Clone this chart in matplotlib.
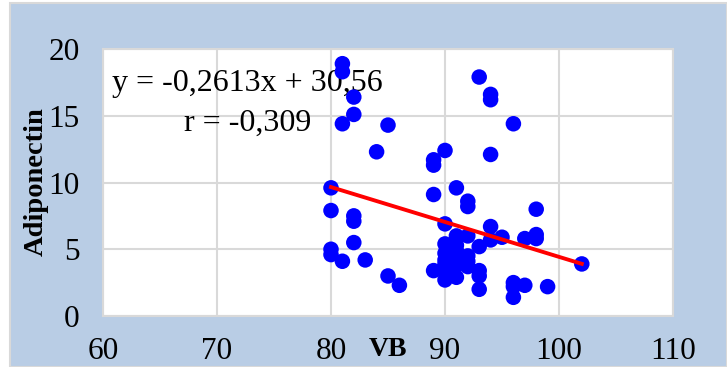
import numpy as np
import matplotlib.pyplot as plt
from matplotlib.patches import Rectangle

# VB vs Adiponectin values
vb = [80, 80, 80, 80,
      81, 81, 81, 81,
      82, 82, 82, 82, 82,
      83, 84, 85, 85, 86,
      89, 89, 89, 89,
      90, 90, 90, 90, 90, 90, 90, 90,
      91, 91, 91, 91, 91, 91, 91,
      92, 92, 92, 92, 92, 92,
      93, 93, 93, 93, 93,
      94, 94, 94, 94, 94,
      95,
      96, 96, 96, 96,
      97, 97,
      98, 98, 98,
      99, 102]
adiponectin = [9.6, 7.9, 5.0, 4.6,
               18.9, 18.3, 14.4, 4.1,
               16.4, 15.1, 7.5, 7.1, 5.5,
               4.2, 12.3, 14.3, 3.0, 2.3,
               11.7, 11.3, 9.1, 3.4,
               12.4, 6.9, 5.4, 4.7, 4.2, 3.9, 3.4, 2.7,
               9.6, 6.0, 5.3, 4.9, 4.5, 3.8, 2.9,
               8.6, 8.2, 6.0, 4.5, 4.1, 3.7,
               17.9, 5.2, 3.4, 3.0, 2.0,
               16.6, 16.2, 12.1, 6.7, 5.7,
               5.9,
               14.4, 2.5, 2.2, 1.4,
               5.8, 2.3,
               8.0, 6.1, 5.8,
               2.2, 3.9]

slope = -0.2613
intercept = 30.56
r_value = -0.309

x_ticks = [60, 70, 80, 90, 100, 110]
y_ticks = [0, 5, 10, 15, 20]

plt.rcParams['font.family'] = ['Liberation Serif', 'DejaVu Serif']

fig = plt.figure(figsize=(7.27, 3.67), dpi=100)
fig.patch.set_facecolor('white')

# light blue chart area with thin grey border
bg = Rectangle((10 / 727, 0), 1 - 10 / 727, 1 - 3 / 367, transform=fig.transFigure,
               facecolor='#B9CDE5', edgecolor='#D9D9D9', linewidth=1.5, zorder=-5)
fig.patches.append(bg)

ax = fig.add_axes([103 / 727, 51 / 367, 570 / 727, 267 / 367])
ax.set_zorder(1)
ax.set_facecolor('white')

ax.scatter(vb, adiponectin, s=125, color='#0000FF', edgecolors='none', zorder=3)

# trendline from the equation shown on the chart
xs = np.array([min(vb), max(vb)])
ax.plot(xs, slope * xs + intercept, color='#FF0000', linewidth=2.8, zorder=4)

ax.set_xlim(60, 110)
ax.set_ylim(0, 20)
ax.set_xticks(x_ticks)
ax.set_yticks(y_ticks)
ax.tick_params(length=0, labelsize=22.5)
ax.tick_params(axis='y', pad=17)
ax.tick_params(axis='x', pad=15)
ax.grid(True, color='#D9D9D9', linewidth=1.5)
ax.set_axisbelow(True)
for s in ax.spines.values():
    s.set_color('#D9D9D9')
    s.set_linewidth(1.5)

ax.text(72.7, 17.4, 'y = -0,2613x + 30,56', fontsize=23, ha='center', va='center', zorder=2)
ax.text(72.7, 14.4, 'r = -0,309', fontsize=23, ha='center', va='center', zorder=2)

fig.text(36 / 727, 1 - 182 / 367, 'Adiponectin', fontsize=20.5, fontweight='bold',
         rotation=90, ha='center', va='center')
fig.text(388 / 727, 1 - 350 / 367, 'VB', fontsize=20, fontweight='bold',
         ha='center', va='center')

fig.savefig('out.png', dpi=100, facecolor=fig.get_facecolor())
